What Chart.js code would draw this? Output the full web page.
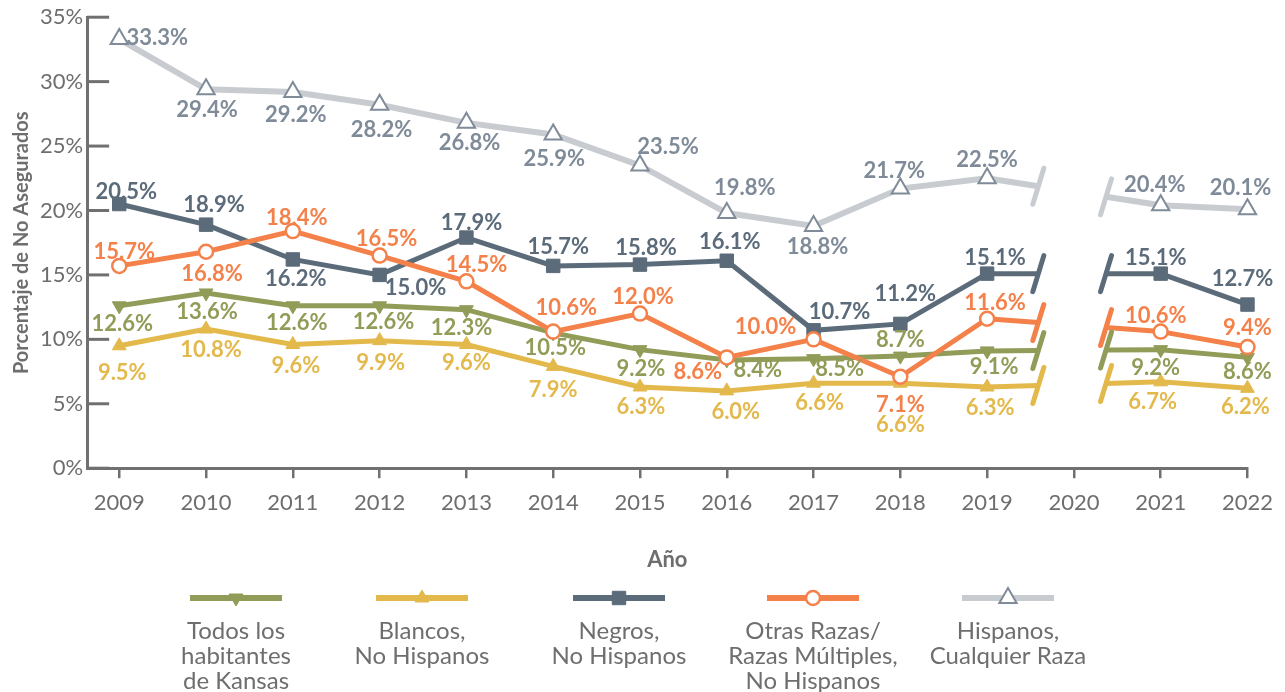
<!DOCTYPE html>
<html>
<head>
<meta charset="utf-8">
<script src="https://cdn.jsdelivr.net/npm/chart.js@4.4.1/dist/chart.umd.min.js"></script>
<style>
  html, body { margin: 0; padding: 0; background: #fff; }
  #wrap { width: 1285px; height: 692px; }
</style>
</head>
<body>
<div id="wrap"><canvas id="chart" width="1285" height="692"></canvas></div>
<script>
const years = [2009, 2010, 2011, 2012, 2013, 2014, 2015, 2016, 2017, 2018, 2019, 2020, 2021, 2022];
const todosKansas = [12.6, 13.6, 12.6, 12.6, 12.3, 10.5, 9.2, 8.4, 8.5, 8.7, 9.1, null, 9.2, 8.6];
const blancos = [9.5, 10.8, 9.6, 9.9, 9.6, 7.9, 6.3, 6.0, 6.6, 6.6, 6.3, null, 6.7, 6.2];
const negros = [20.5, 18.9, 16.2, 15.0, 17.9, 15.7, 15.8, 16.1, 10.7, 11.2, 15.1, null, 15.1, 12.7];
const otrasRazas = [15.7, 16.8, 18.4, 16.5, 14.5, 10.6, 12.0, 8.6, 10.0, 7.1, 11.6, null, 10.6, 9.4];
const hispanos = [33.3, 29.4, 29.2, 28.2, 26.8, 25.9, 23.5, 19.8, 18.8, 21.7, 22.5, null, 20.4, 20.1];
const yTicks = [0, 5, 10, 15, 20, 25, 30, 35];
const legendNames = [
  ['Todos los', 'habitantes', 'de Kansas'],
  ['Blancos,', 'No Hispanos'],
  ['Negros,', 'No Hispanos'],
  ['Otras Razas/', 'Razas Múltiples,', 'No Hispanos'],
  ['Hispanos,', 'Cualquier Raza']
];

// where each value label sits relative to its point [dx, dy]
const labelShift = {
  todos: [[3,18],[1,19],[4,17],[4,16],[-5,18],[2,15],[1,19],[31,10],[26,10],[0,-16],[7,16],null,[-5,18],[0,15]],
  blancos: [[3,27],[5,21],[3,21],[1,22],[0,18],[0,24],[1,20],[9,21],[6,20],[0,42],[3,21],null,[-8,20],[-2,19]],
  negros: [[7,-12],[8,-20],[3,19],[36,13],[5,-15],[5,-19],[6,-17],[3,-19],[26,-18],[5,-30],[8,-16],null,[-5,-16],[-5,-26]],
  otras: [[5,-14],[6,22],[4,-13],[7,-17],[10,-16],[13,-24],[3,-17],[-29,15],[-48,-12],[0,28],[8,-16],null,[-5,-16],[0,-19]],
  hisp: [[38,-1],[1,21],[3,23],[2,25],[3,20],[1,24],[28,-18],[18,-25],[4,21],[-6,-18],[0,-18],null,[-6,-20],[-7,-21]]
};

const gapIndex = years.indexOf(2020);
const breakAt = [0.295, 0.685];
const FONT = 'Lato, "Open Sans", sans-serif';
const AXIS = '#707070';
const TEXT = '#6e6e6e';

function pts(values) {
  return values.map((v, i) => ({ x: years[i], y: v }));
}

function gapDash(ctx) {
  if (ctx.p1DataIndex !== gapIndex && ctx.p1DataIndex !== gapIndex + 1) return undefined;
  const meta = ctx.chart.getDatasetMeta(ctx.datasetIndex).data;
  const a = meta[gapIndex - 1], b = meta[gapIndex + 1];
  const len = Math.hypot(b.x - a.x, b.y - a.y);
  return [len * breakAt[0], len * (breakAt[1] - breakAt[0]), len * 2];
}

function series(label, values, color, labelColor, shift, point, order, width) {
  return Object.assign({
    label, data: pts(values), order, clip: false,
    borderColor: color, backgroundColor: color,
    borderWidth: width || 5, spanGaps: true, tension: 0,
    pointBorderColor: color, pointBackgroundColor: color, pointBorderWidth: 1,
    segment: { borderDash: gapDash },
    labelColor, shift
  }, point);
}

const datasets = [
  series('Todos los habitantes de Kansas', todosKansas, '#909c57', '#909c57', labelShift.todos,
    { pointStyle: 'triangle', pointRotation: 180, pointRadius: 8 }, 2),
  series('Blancos, No Hispanos', blancos, '#e3b94c', '#e3b94c', labelShift.blancos,
    { pointStyle: 'triangle', pointRadius: 8 }, 3),
  series('Negros, No Hispanos', negros, '#5b6b7a', '#5b6b7a', labelShift.negros,
    { pointStyle: 'rect', pointRadius: 9.5 }, 1),
  series('Otras Razas/Razas Múltiples, No Hispanos', otrasRazas, '#f4804a', '#f4804a', labelShift.otras,
    { pointStyle: 'circle', pointRadius: 7, pointBackgroundColor: '#ffffff', pointBorderWidth: 2.5 }, 0),
  series('Hispanos, Cualquier Raza', hispanos, '#c8ccd1', '#7f8b98', labelShift.hisp,
    { pointStyle: 'triangle', pointRadius: 10, pointBackgroundColor: '#ffffff', pointBorderColor: '#7f8b98', pointBorderWidth: 2 }, 4, 6)
];

const extras = {
  id: 'extras',
  afterDatasetsDraw(chart) {
    const { ctx, chartArea, scales } = chart;
    ctx.save();
    // inward y ticks
    ctx.strokeStyle = AXIS;
    ctx.lineWidth = 3;
    yTicks.forEach(t => {
      const y = scales.y.getPixelForValue(t);
      ctx.beginPath();
      ctx.moveTo(chartArea.left, y);
      ctx.lineTo(chartArea.left + 22, y);
      ctx.stroke();
    });
    // break marks around 2020
    chart.data.datasets.forEach((ds, di) => {
      const meta = chart.getDatasetMeta(di).data;
      const a = meta[gapIndex - 1], b = meta[gapIndex + 1];
      ctx.strokeStyle = ds.borderColor;
      ctx.lineWidth = 5;
      ctx.lineCap = 'round';
      breakAt.forEach(f => {
        const x = a.x + f * (b.x - a.x), y = a.y + f * (b.y - a.y);
        ctx.beginPath();
        ctx.moveTo(x - 5.5, y + 18);
        ctx.lineTo(x + 5.5, y - 18);
        ctx.stroke();
      });
    });
    // value labels
    ctx.font = 'bold 22px ' + FONT;
    ctx.textAlign = 'center';
    ctx.textBaseline = 'middle';
    chart.data.datasets.forEach((ds, di) => {
      const meta = chart.getDatasetMeta(di).data;
      ctx.fillStyle = ds.labelColor;
      ds.data.forEach((d, i) => {
        if (d.y === null) return;
        const s = ds.shift[i];
        ctx.fillText(d.y.toFixed(1) + '%', meta[i].x + s[0], meta[i].y + s[1]);
      });
    });
    ctx.restore();
  },
  afterDraw(chart) {
    const { ctx } = chart;
    const centers = [236, 422, 619, 813, 1008];
    ctx.save();
    chart.data.datasets.forEach((ds, i) => {
      const cx = centers[i], y = 598;
      ctx.strokeStyle = ds.borderColor;
      ctx.lineWidth = 6;
      ctx.lineCap = 'butt';
      ctx.beginPath();
      ctx.moveTo(cx - 46, y);
      ctx.lineTo(cx + 46, y);
      ctx.stroke();
      ctx.fillStyle = ds.pointBackgroundColor;
      ctx.strokeStyle = ds.pointBorderColor;
      ctx.lineWidth = ds.pointBorderWidth;
      Chart.helpers.drawPoint(ctx, {
        pointStyle: ds.pointStyle, rotation: ds.pointRotation || 0,
        radius: ds.pointRadius, borderWidth: ds.pointBorderWidth
      }, cx, y);
      ctx.fillStyle = TEXT;
      ctx.font = '24px ' + FONT;
      ctx.textAlign = 'center';
      ctx.textBaseline = 'middle';
      legendNames[i].forEach((line, k) => ctx.fillText(line, cx, 631 + k * 25));
    });
    ctx.restore();
  }
};

new Chart(document.getElementById('chart'), {
  type: 'line',
  data: { datasets },
  plugins: [extras],
  options: {
    responsive: false,
    animation: false,
    events: [],
    layout: { padding: { top: 14, right: 35, bottom: 119, left: 10 } },
    plugins: { legend: { display: false }, tooltip: { enabled: false } },
    scales: {
      x: {
        type: 'linear',
        min: 2008.63,
        max: 2022,
        afterBuildTicks: axis => { axis.ticks = years.map(v => ({ value: v })); },
        ticks: {
          callback: v => String(v), color: TEXT, font: { family: FONT, size: 22 },
          padding: 12, autoSkip: false, maxRotation: 0
        },
        grid: { drawOnChartArea: false, drawTicks: true, tickLength: 10, color: AXIS, lineWidth: 2.5 },
        border: { color: AXIS, width: 3 },
        title: {
          display: true, text: 'Año', color: TEXT,
          font: { family: FONT, size: 22, weight: 'bold' }, padding: { top: 18, bottom: 0 }
        }
      },
      y: {
        min: 0, max: 35,
        afterBuildTicks: axis => { axis.ticks = yTicks.map(v => ({ value: v })); },
        ticks: { callback: v => v + '%', color: TEXT, font: { family: FONT, size: 22 }, padding: 4 },
        grid: { drawOnChartArea: false, drawTicks: false },
        border: { color: AXIS, width: 3 },
        title: {
          display: true, text: 'Porcentaje de No Asegurados', color: TEXT,
          font: { family: FONT, size: 20, weight: 'bold' }, padding: { top: 0, bottom: 2 }
        }
      }
    }
  }
});
</script>
</body>
</html>
